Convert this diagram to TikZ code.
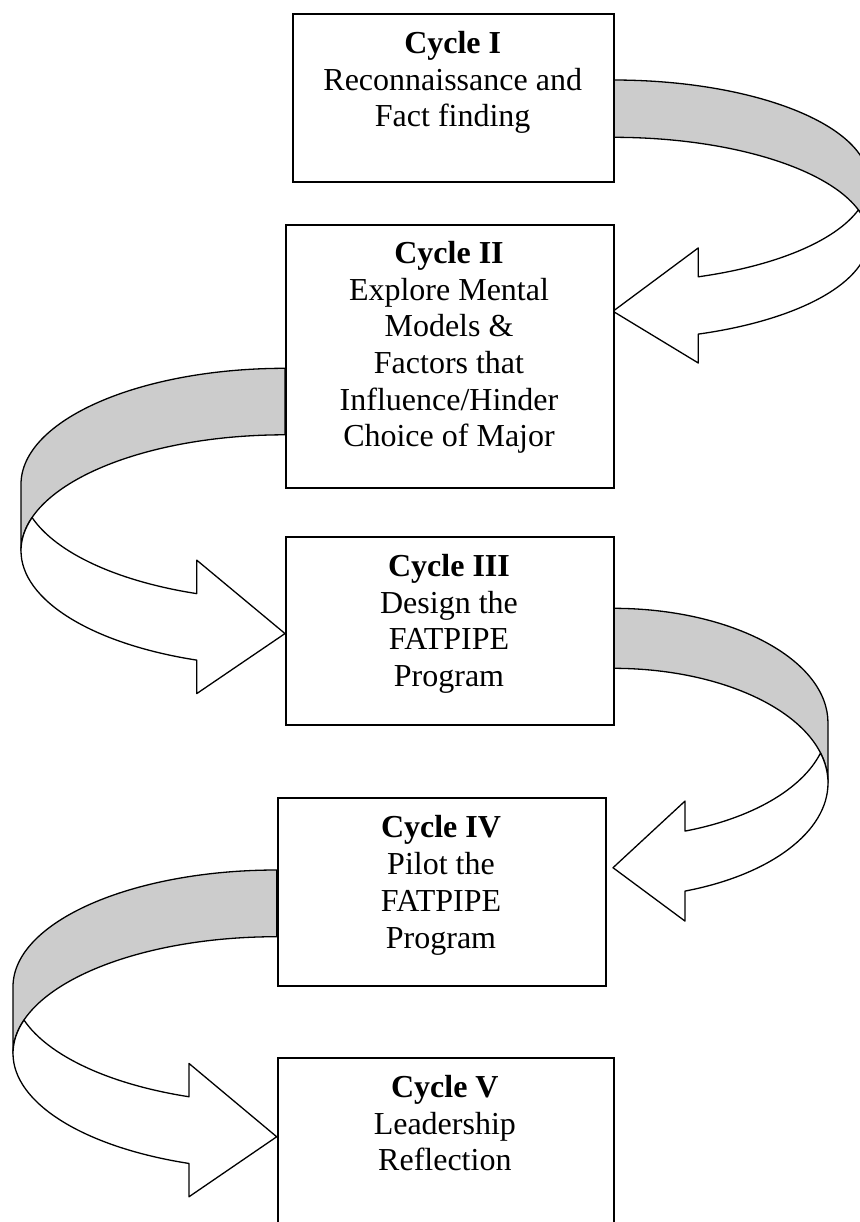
\documentclass[tikz,border=0pt]{standalone}
\usepackage{fontspec}
\setmainfont{Liberation Serif}
\definecolor{bandgray}{RGB}{204,204,204}

% Ribbon-style curved arrow: two congruent ellipses offset vertically by the
% band thickness; the back half of the ribbon is shaded, the front half carries
% the arrow head.
% #1 x of ellipse centres (arrow tip x), #2 y of upper centre, #3 x radius,
% #4 y radius, #5 band thickness, #6 head length, #7 barb overhang,
% #8 direction (+1 bulges right, -1 bulges left)
\newcommand{\ribbonarrow}[8]{%
  \begin{scope}[shift={(#1,0)}, xscale=#8]
    \pgfmathsetmacro{\rbTs}{acos(#6/#3)}
    \pgfmathsetmacro{\rbTx}{asin(#5/(2*#4))}
    \pgfmathsetmacro{\rbCb}{#2+#5}
    \pgfmathsetmacro{\rbSa}{#2+#4*sin(\rbTs)}
    \pgfmathsetmacro{\rbSb}{\rbCb+#4*sin(\rbTs)}
    \pgfmathsetmacro{\rbTip}{#2+#4+#5/2}
    \path[ribbonline, fill=bandgray]
      (0,#2-#4) arc[start angle=-90, end angle=0, x radius=#3, y radius=#4]
      -- (#3,\rbCb) arc[start angle=0, end angle=-90, x radius=#3, y radius=#4]
      -- cycle;
    \path[ribbonline, fill=white]
      (#3,\rbCb) arc[start angle=0, end angle=\rbTs, x radius=#3, y radius=#4]
      -- (#6,\rbSb+#7) -- (0,\rbTip) -- (#6,\rbSa-#7) -- (#6,\rbSa)
      arc[start angle=\rbTs, end angle=\rbTx, x radius=#3, y radius=#4]
      arc[start angle=-\rbTx, end angle=0, x radius=#3, y radius=#4]
      -- cycle;
  \end{scope}}

\begin{document}
\begin{tikzpicture}[x=0.5pt, y=-0.5pt,
  cyclebox/.style={draw, line width=1pt, fill=white, inner sep=0pt, anchor=north west},
  cycletext/.style={anchor=base, inner sep=0pt, font=\fontsize{16}{18.35}\selectfont},
  ribbonline/.style={draw, line width=0.65pt, line join=round}]

\useasboundingbox (0,0) rectangle (860,1222);
\clip (0,0) rectangle (860,1222);

% curved ribbon arrows between the cycles
\ribbonarrow{613}{181.3}{255.8}{101.3}{57.3}{85.3}{28.9}{1}
\ribbonarrow{285}{484.3}{264}{116}{66.5}{88.3}{33.5}{-1}
\ribbonarrow{613}{723}{215}{114.7}{60}{72}{30}{1}
\ribbonarrow{276.7}{986.7}{263.7}{116.7}{66.7}{87.7}{33.3}{-1}

% cycle boxes
\node[cyclebox, minimum width=160.35pt, minimum height=83.9pt] (b1) at (292.3,12.7) {};
\node[cyclebox, minimum width=164pt, minimum height=131.5pt] (b2) at (285,224) {};
\node[cyclebox, minimum width=164pt, minimum height=94.15pt] (b3) at (285,536) {};
\node[cyclebox, minimum width=164.3pt, minimum height=93.85pt] (b4) at (276.7,797.3) {};
\node[cyclebox, minimum width=168.15pt, minimum height=100pt] (b5) at (276.7,1056.7) {};

% box texts
\node[cycletext] (t1) at (452.7,53.3) {\begin{tabular}[t]{@{}c@{}}\textbf{Cycle I}\\Reconnaissance and\\Fact finding\end{tabular}};
\node[cycletext] (t2) at (449,263.3) {\begin{tabular}[t]{@{}c@{}}\textbf{Cycle II}\\Explore Mental\\Models \&\\Factors that\\Influence/Hinder\\Choice of Major\end{tabular}};
\node[cycletext] (t3) at (449,576.5) {\begin{tabular}[t]{@{}c@{}}\textbf{Cycle III}\\Design the\\FATPIPE\\Program\end{tabular}};
\node[cycletext] (t4) at (441,837.9) {\begin{tabular}[t]{@{}c@{}}\textbf{Cycle IV}\\Pilot the\\FATPIPE\\Program\end{tabular}};
\node[cycletext] (t5) at (444.85,1097.3) {\begin{tabular}[t]{@{}c@{}}\textbf{Cycle V}\\Leadership\\Reflection\end{tabular}};
\end{tikzpicture}
\end{document}
